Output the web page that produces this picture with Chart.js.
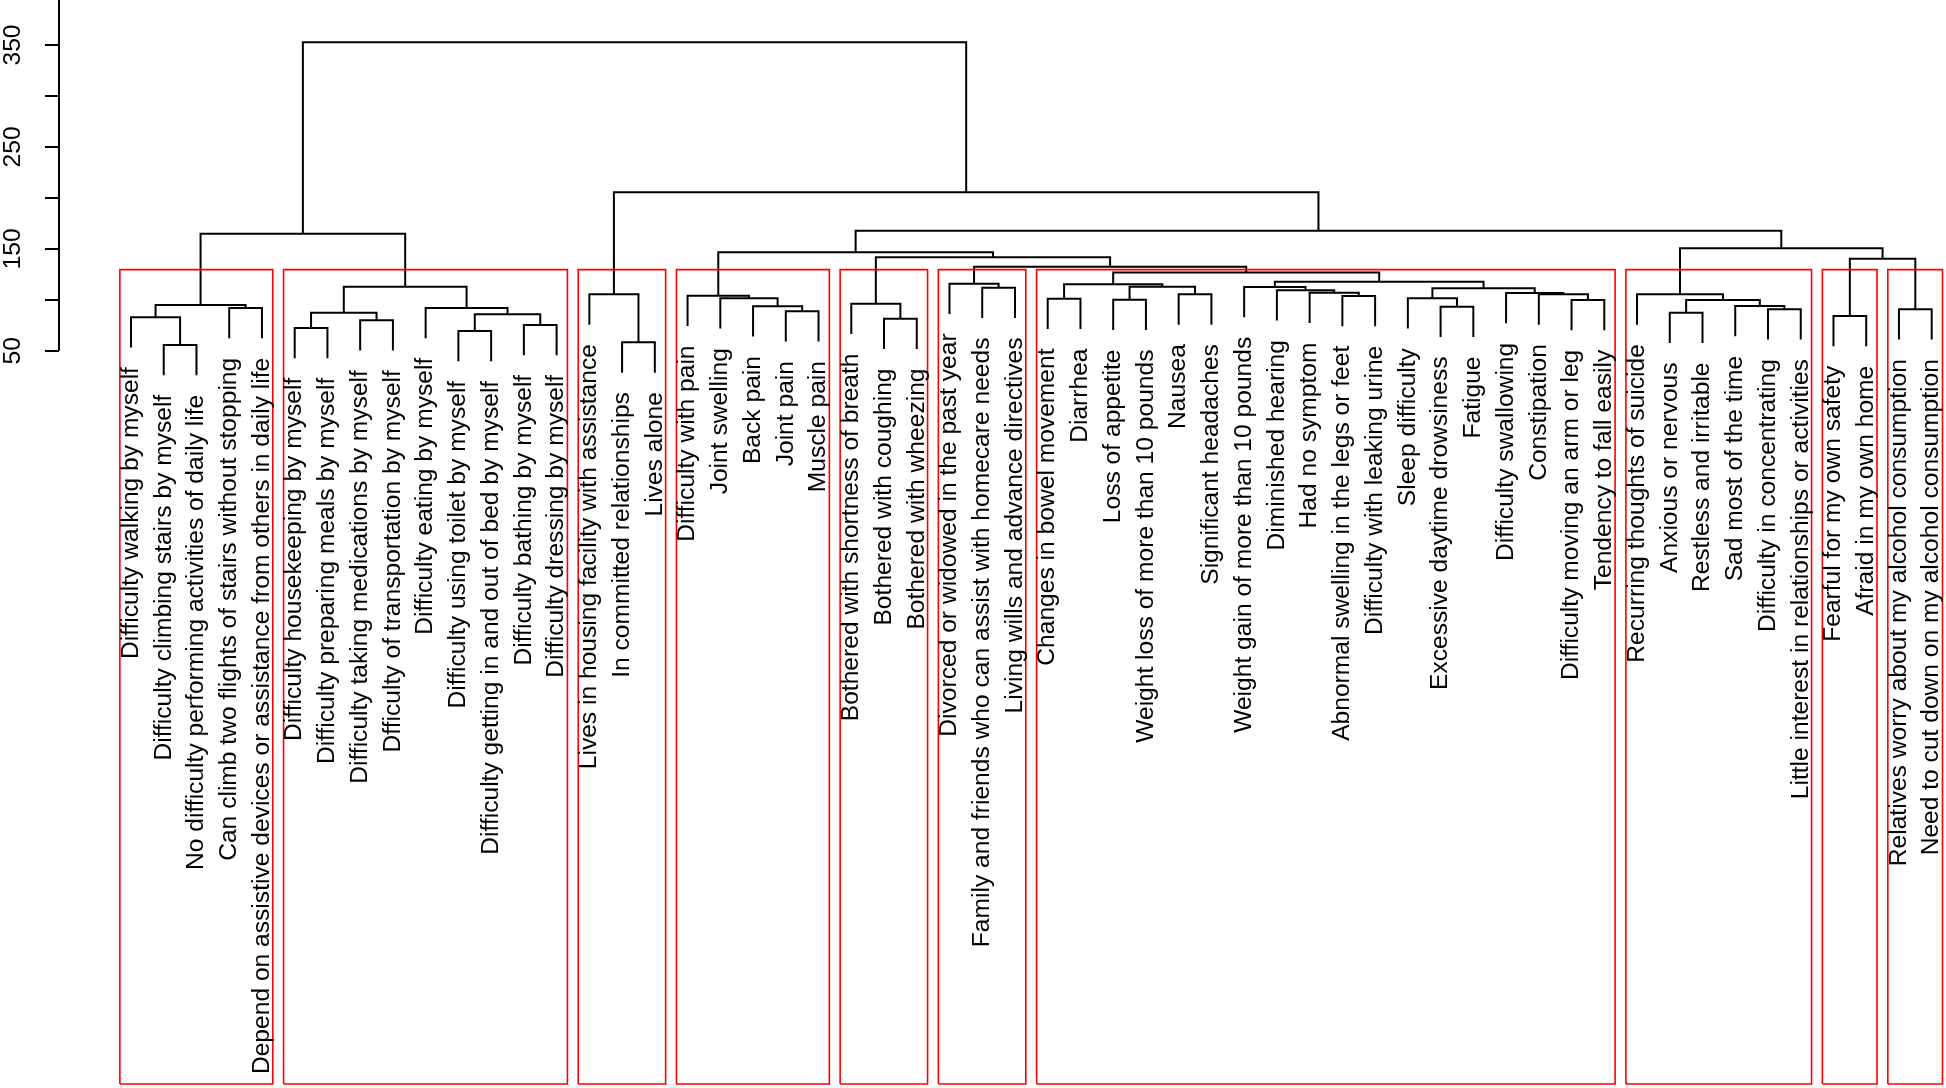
<!DOCTYPE html>
<html>
<head>
<meta charset="utf-8">
<script src="https://cdn.jsdelivr.net/npm/chart.js@4.4.0/dist/chart.umd.min.js"></script>
<style>
html,body{margin:0;padding:0;background:#ffffff;}
#wrap{width:1946px;height:1088px;}
</style>
</head>
<body>
<div id="wrap"><canvas id="c" width="1946" height="1088"></canvas></div>
<script>
// ---- DATA ----
const leafLabels = [
  "Difficulty walking by myself",
  "Difficulty climbing stairs by myself",
  "No difficulty performing activities of daily life",
  "Can climb two flights of stairs without stopping",
  "Depend on assistive devices or assistance from others in daily life",
  "Difficulty housekeeping by myself",
  "Difficulty preparing meals by myself",
  "Difficulty taking medications by myself",
  "Dfficulty of transportation by myself",
  "Difficulty eating by myself",
  "Difficulty using toilet by myself",
  "Difficulty getting in and out of bed by myself",
  "Difficulty bathing by myself",
  "Difficulty dressing by myself",
  "Lives in housing facility with assistance",
  "In committed relationships",
  "Lives alone",
  "Difficulty with pain",
  "Joint swelling",
  "Back pain",
  "Joint pain",
  "Muscle pain",
  "Bothered with shortness of breath",
  "Bothered with coughing",
  "Bothered with wheezing",
  "Divorced or widowed in the past year",
  "Family and friends who can assist with homecare needs",
  "Living wills and advance directives",
  "Changes in bowel movement",
  "Diarrhea",
  "Loss of appetite",
  "Weight loss of more than 10 pounds",
  "Nausea",
  "Significant headaches",
  "Weight gain of more than 10 pounds",
  "Diminished hearing",
  "Had no symptom",
  "Abnormal swelling in the legs or feet",
  "Difficulty with leaking urine",
  "Sleep difficulty",
  "Excessive daytime drowsiness",
  "Fatigue",
  "Difficulty swallowing",
  "Constipation",
  "Difficulty moving an arm or leg",
  "Tendency to fall easily",
  "Recurring thoughts of suicide",
  "Anxious or nervous",
  "Restless and irritable",
  "Sad most of the time",
  "Difficulty in concentrating",
  "Little interest in relationships or activities",
  "Fearful for my own safety",
  "Afraid in my own home",
  "Relatives worry about my alcohol consumption",
  "Need to cut down on my alcohol consumption"
];

// hclust-style merges: negative = leaf (display position, 1-based), positive = earlier merge row (1-based)
const mergeLeft  = [-2,-1,-4,2,-6,-8,5,-11,-13,8,-10,7,4,-16,-15,-21,-20,-19,-18,-24,-23,-27,-26,-29,-31,-33,25,24,-38,-37,-36,-35,-41,-40,-45,-44,-43,34,32,28,23,21,19,-48,-51,-50,44,-47,-53,-55,49,48,43,15,13];
const mergeRight = [-3,1,-5,3,-7,-9,6,-12,-14,9,10,11,12,-17,14,-22,16,17,18,-25,20,-28,22,-30,-32,-34,26,27,-39,29,30,31,-42,33,-46,35,36,37,38,39,40,41,42,-49,-52,45,46,47,-54,-56,50,51,52,53,54];
const mergeHeight = [55.6,82.8,91.9,94.8,72.3,79.8,87.3,69.3,75.2,85.7,91.9,112.8,164.8,58.2,105.3,88.7,93.6,101.4,104.0,81.4,96.1,111.8,115.8,101.0,100.0,105.3,112.8,115.2,103.7,106.9,109.3,112.5,93.2,101.4,99.8,105.3,106.6,111.2,117.7,126.8,132.3,141.7,146.6,87.3,90.6,93.9,99.8,105.3,84.1,90.6,140.3,150.5,167.8,205.4,352.6];

// clusters outlined in red (first leaf, last leaf)
const clusterFirst = [1,6,15,18,23,26,29,47,53,55];
const clusterLast  = [5,14,17,22,25,28,46,52,54,56];

const yTickValues = [50,100,150,200,250,300,350];
const yTickLabels = ["50","","150","","250","","350"];

// ---- LAYOUT / STYLE ----
const HANG = 0.1;
const Y_MIN = -673.5, Y_MAX = 394.16;
const X_MIN = -1.199, X_MAX = 56.437;
const PLOT_BOTTOM = -669.6;
const FONT = "Liberation Sans, Arial, Helvetica, sans-serif";
const FONT_SIZE = 24.6;
const LABEL_GAP = 19.5;

// ---- build dendrogram geometry (library scales map them) ----
const hangUnits = HANG * (Math.max(...mergeHeight) - Math.min(...mergeHeight));
const nodeX = [];
const leafEnd = new Array(leafLabels.length + 1);
const treePts = [];
for (let k = 0; k < mergeHeight.length; k++) {
  const h = mergeHeight[k];
  const l = mergeLeft[k], r = mergeRight[k];
  const xl = l < 0 ? -l : nodeX[l - 1];
  const xr = r < 0 ? -r : nodeX[r - 1];
  const bl = l < 0 ? h - hangUnits : mergeHeight[l - 1];
  const br = r < 0 ? h - hangUnits : mergeHeight[r - 1];
  if (l < 0) leafEnd[-l] = bl;
  if (r < 0) leafEnd[-r] = br;
  nodeX.push((xl + xr) / 2);
  treePts.push({x: xl, y: bl}, {x: xl, y: h}, {x: xr, y: h}, {x: xr, y: br}, {x: xr, y: null});
}

const sortedH = [...mergeHeight].sort((a, b) => b - a);
const K = clusterFirst.length;
const boxTop = (sortedH[K - 2] + sortedH[K - 1]) / 2;
const boxPts = [];
for (let j = 0; j < K; j++) {
  const a = clusterFirst[j] - 0.34, b = clusterLast[j] + 0.33;
  boxPts.push({x: a, y: PLOT_BOTTOM}, {x: a, y: boxTop}, {x: b, y: boxTop}, {x: b, y: PLOT_BOTTOM}, {x: a, y: PLOT_BOTTOM}, {x: a, y: null});
}

const extras = {
  id: 'dendroExtras',
  afterDraw(chart) {
    const ctx = chart.ctx;
    const xs = chart.scales.x, ys = chart.scales.y;
    ctx.save();
    // y axis line (50 up to top)
    ctx.strokeStyle = '#000';
    ctx.lineWidth = 2;
    ctx.beginPath();
    const ax = ys.right;
    ctx.moveTo(ax, ys.getPixelForValue(yTickValues[0]));
    ctx.lineTo(ax, chart.chartArea.top);
    ctx.stroke();
    // leaf labels
    ctx.fillStyle = '#000';
    ctx.font = FONT_SIZE + 'px ' + FONT;
    ctx.textAlign = 'right';
    ctx.textBaseline = 'middle';
    for (let i = 1; i <= leafLabels.length; i++) {
      const px = xs.getPixelForValue(i);
      const py = ys.getPixelForValue(leafEnd[i]) + LABEL_GAP;
      ctx.save();
      ctx.translate(px, py);
      ctx.rotate(-Math.PI / 2);
      ctx.fillText(leafLabels[i - 1], 0, 0);
      ctx.restore();
    }
    ctx.restore();
  }
};

new Chart(document.getElementById('c').getContext('2d'), {
  type: 'line',
  data: {
    datasets: [
      {data: boxPts, borderColor: '#ff0000', borderWidth: 1.6, pointRadius: 0, spanGaps: false, tension: 0, order: 0},
      {data: treePts, borderColor: '#000000', borderWidth: 2, pointRadius: 0, spanGaps: false, tension: 0, order: 1}
    ]
  },
  options: {
    responsive: false,
    animation: false,
    devicePixelRatio: 1,
    events: [],
    layout: {padding: 0},
    plugins: {legend: {display: false}, tooltip: {enabled: false}, title: {display: false}},
    scales: {
      x: {type: 'linear', display: false, min: X_MIN, max: X_MAX},
      y: {
        type: 'linear', position: 'left', min: Y_MIN, max: Y_MAX,
        afterBuildTicks: s => { s.ticks = yTickValues.map(v => ({value: v})); },
        afterFit: s => { s.width = 59; s.paddingTop = 0; s.paddingBottom = 0; },
        ticks: {
          autoSkip: false, minRotation: 90, maxRotation: 90, crossAlign: 'center', padding: 11,
          color: '#000', font: {family: FONT, size: FONT_SIZE},
          callback: (v, i) => yTickLabels[i]
        },
        grid: {drawOnChartArea: false, drawTicks: true, tickLength: 14, color: '#000', lineWidth: 2},
        border: {display: false}
      }
    }
  },
  plugins: [extras]
});
</script>
</body>
</html>
